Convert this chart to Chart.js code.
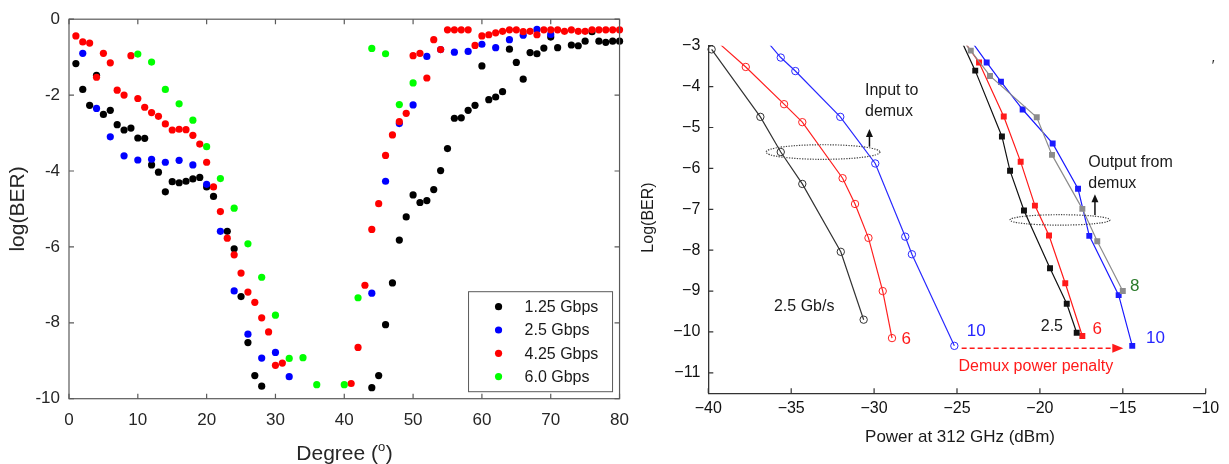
<!DOCTYPE html>
<html>
<head>
<meta charset="utf-8">
<script src="https://cdn.jsdelivr.net/npm/chart.js@4.4.1/dist/chart.umd.min.js"></script>
<style>
  html, body { margin: 0; padding: 0; background: #fff; }
  #wrap { position: relative; width: 1229px; height: 464px; overflow: hidden; }
  #leftChart { position: absolute; left: 0; top: 0; }
  #rightChart { position: absolute; left: 640px; top: 0; }
</style>
</head>
<body>
<div id="wrap">
  <canvas id="leftChart" width="640" height="464"></canvas>
  <canvas id="rightChart" width="589" height="464"></canvas>
</div>
<script>
// ---- left panel: log(BER) against rotation angle ----
const degTicks = [0, 10, 20, 30, 40, 50, 60, 70, 80];
const berTicksLeft = [-10, -8, -6, -4, -2, 0];
const rateLabels = ['1.25 Gbps', '2.5 Gbps', '4.25 Gbps', '6.0 Gbps'];

const deg125 = [1, 2, 3, 4, 5, 6, 7, 8, 9, 10, 11, 12, 13, 14, 15, 16, 17, 18, 19, 20, 21,
  23, 24, 25, 26, 27, 28, 44, 45, 46, 47, 48, 49, 50, 51, 52, 53, 54, 55, 56, 57, 58, 59,
  60, 61, 62, 63, 64, 65, 66, 67, 68, 69, 70, 71, 73, 74, 75, 76, 77, 78, 79, 80];
const ber125 = [-1.17, -1.85, -2.27, -1.48, -2.51, -2.40, -2.78, -2.92, -2.87, -3.13, -3.14,
  -3.84, -4.03, -4.55, -4.28, -4.31, -4.27, -4.21, -4.17, -4.42, -4.67,
  -5.59, -6.05, -7.31, -8.52, -9.39, -9.67, -9.71, -9.39, -8.05, -6.95, -5.82, -5.21, -4.63,
  -4.83, -4.78, -4.49, -3.99, -3.41, -2.61, -2.60, -2.40, -2.27,
  -1.23, -2.12, -2.05, -1.91, -0.79, -1.14, -1.58, -0.88, -0.91, -0.76, -0.47, -0.75,
  -0.68, -0.70, -0.58, -0.33, -0.58, -0.61, -0.58, -0.58];

const deg25 = [2, 4, 6, 8, 10, 12, 14, 16, 18, 20, 22, 24, 26, 28, 30, 32,
  44, 46, 48, 50, 52, 54, 56, 58, 60, 62, 64, 66, 68, 70];
const ber25 = [-0.90, -2.35, -3.10, -3.60, -3.71, -3.69, -3.77, -3.72, -3.84, -4.35, -5.59,
  -7.16, -8.30, -8.93, -8.78, -9.42,
  -7.22, -4.27, -2.75, -2.26, -0.98, -0.80, -0.87, -0.85, -0.66, -0.75, -0.54, -0.42, -0.27, -0.40];

const deg425 = [1, 2, 3, 4, 5, 6, 7, 8, 9, 10, 11, 12, 13, 14, 15, 16, 17, 18, 19, 20,
  21, 22, 23, 24, 25, 26, 27, 28, 29, 30, 31,
  41, 42, 43, 44, 45, 46, 47, 48, 49, 50, 51, 52, 53, 54, 55, 56, 57, 58, 59, 60,
  61, 62, 63, 64, 65, 66, 67, 68, 69, 70, 71, 72, 73, 74, 75, 76, 77, 78, 79, 80];
const ber425 = [-0.44, -0.60, -0.63, -1.53, -0.90, -1.15, -1.87, -2.00, -0.96, -2.09,
  -2.32, -2.46, -2.56, -2.76, -2.92, -2.90, -2.91, -3.06, -3.29, -3.77,
  -4.42, -5.07, -5.77, -6.21, -6.69, -7.19, -7.46, -7.87, -8.24, -9.12, -9.06,
  -9.60, -8.65, -7.01, -5.54, -4.86, -3.59, -3.05, -2.70, -2.48, -0.96,
  -0.90, -1.55, -0.54, -0.80, -0.28, -0.28, -0.28, -0.28, -0.69, -0.44,
  -0.41, -0.36, -0.32, -0.28, -0.28, -0.33, -0.32, -0.41, -0.28, -0.28,
  -0.28, -0.32, -0.28, -0.32, -0.32, -0.28, -0.28, -0.28, -0.28, -0.28];

const deg60 = [10, 12, 14, 16, 18, 20, 22, 24, 26, 28, 30, 32, 34, 36, 40, 42, 44, 46, 48, 50];
const ber60 = [-0.92, -1.13, -1.85, -2.23, -2.66, -3.36, -4.20, -4.98, -5.92, -6.80,
  -7.80, -8.94, -8.92, -9.63, -9.63, -7.34, -0.77, -0.91, -2.25, -1.68];

// ---- right panel: log(BER) against received power ----
const powerTicks = [-40, -35, -30, -25, -20, -15, -10];
const berTicksRight = [-11, -10, -9, -8, -7, -6, -5, -4, -3];

// input to demux (open circles); a first value above -3 is only where the trace enters the frame
const inPow25 = [-39.8, -36.86, -35.63, -34.33, -32.01, -30.63];
const inBer25 = [-3.09, -4.74, -5.60, -6.38, -8.04, -9.70];
const inPow6 = [-39.25, -37.74, -35.43, -34.33, -31.9, -31.15, -30.34, -29.48, -28.92];
const inBer6 = [-2.98, -3.52, -4.43, -4.87, -6.24, -6.87, -7.70, -9.00, -10.15];
const inPow10 = [-36.28, -35.63, -34.75, -32.04, -29.93, -28.12, -27.72, -25.16];
const inBer10 = [-2.98, -3.29, -3.62, -4.74, -5.88, -7.67, -8.10, -10.34];

// output from demux (filled squares)
const outPow25 = [-24.62, -23.9, -22.29, -21.8, -20.96, -19.39, -18.38, -17.78];
const outBer25 = [-2.98, -3.61, -5.22, -6.06, -7.03, -8.44, -9.31, -10.02];
const outPow6 = [-24.42, -23.67, -22.18, -21.16, -20.3, -19.45, -18.47, -17.44];
const outBer6 = [-2.98, -3.41, -4.73, -5.84, -6.91, -7.64, -8.81, -10.1];
const outPow8 = [-24.45, -24.17, -23.01, -20.19, -19.27, -17.44, -16.54, -15.0];
const outBer8 = [-2.98, -3.12, -3.74, -4.75, -5.67, -6.99, -7.78, -9.0];
const outPow10 = [-23.97, -23.21, -22.35, -21.04, -19.23, -17.7, -17.02, -15.25, -14.43];
const outBer10 = [-2.98, -3.41, -3.88, -4.56, -5.39, -6.5, -7.65, -9.1, -10.34];

const FONT = '"Liberation Sans", Arial, Helvetica, sans-serif';

function toXY(xs, ys) {
  return xs.map((x, i) => ({ x: x, y: ys[i] }));
}

function fixedTicks(values) {
  return function (scale) {
    scale.ticks = values.map(v => ({ value: v }));
  };
}

function minusSign(v) {
  return String(v).replace('-', '\u2212');
}

// ---------- left chart ----------
const leftColors = ['#000000', '#0000ff', '#ff0000', '#00ff00'];

function dotSet(i, xs, ys) {
  return {
    label: rateLabels[i],
    data: toXY(xs, ys),
    showLine: false,
    pointRadius: 3.6,
    pointHoverRadius: 3.6,
    pointBorderWidth: 0,
    pointBackgroundColor: leftColors[i],
    backgroundColor: leftColors[i],
    borderColor: leftColors[i],
    clip: false,
    order: 3 - i
  };
}

const leftFrame = {
  id: 'leftFrame',
  afterDraw(chart) {
    const ctx = chart.ctx;
    const ca = chart.chartArea;
    const xs = chart.scales.x, ys = chart.scales.y;
    ctx.save();
    ctx.strokeStyle = '#5a5a5a';
    ctx.lineWidth = 1.2;
    ctx.strokeRect(ca.left, ca.top, ca.right - ca.left, ca.bottom - ca.top);

    // ticks point inward on all four sides
    ctx.beginPath();
    degTicks.forEach(v => {
      const px = xs.getPixelForValue(v);
      ctx.moveTo(px, ca.bottom); ctx.lineTo(px, ca.bottom - 5);
      ctx.moveTo(px, ca.top); ctx.lineTo(px, ca.top + 5);
    });
    berTicksLeft.forEach(v => {
      const py = ys.getPixelForValue(v);
      ctx.moveTo(ca.left, py); ctx.lineTo(ca.left + 5, py);
      ctx.moveTo(ca.right, py); ctx.lineTo(ca.right - 5, py);
    });
    ctx.stroke();

    // axis titles
    ctx.fillStyle = '#262626';
    ctx.font = '21px ' + FONT;
    ctx.textBaseline = 'middle';
    ctx.textAlign = 'center';
    ctx.save();
    ctx.translate(18, (ca.top + ca.bottom) / 2);
    ctx.rotate(-Math.PI / 2);
    ctx.fillText('log(BER)', 0, 0);
    ctx.restore();

    ctx.textBaseline = 'alphabetic';
    ctx.textAlign = 'left';
    const part1 = 'Degree (';
    const w1 = ctx.measureText(part1).width;
    ctx.font = '13px ' + FONT;
    const w2 = ctx.measureText('o').width;
    ctx.font = '21px ' + FONT;
    const w3 = ctx.measureText(')').width;
    let tx = (ca.left + ca.right) / 2 - (w1 + w2 + w3) / 2;
    const base = 460;
    ctx.fillText(part1, tx, base);
    ctx.font = '13px ' + FONT;
    ctx.fillText('o', tx + w1, base - 9);
    ctx.font = '21px ' + FONT;
    ctx.fillText(')', tx + w1 + w2 + 0.5, base);

    // legend box, bottom right inside the axes
    const bx = ca.right - 151, by = ca.bottom - 107, bw = 144, bh = 100;
    ctx.fillStyle = '#ffffff';
    ctx.fillRect(bx, by, bw, bh);
    ctx.strokeStyle = '#5a5a5a';
    ctx.lineWidth = 1;
    ctx.strokeRect(bx, by, bw, bh);
    ctx.font = '16px ' + FONT;
    ctx.textBaseline = 'middle';
    chart.data.datasets.forEach((ds, i) => {
      const ry = by + 15 + i * 23.3;
      ctx.fillStyle = ds.pointBackgroundColor;
      ctx.beginPath();
      ctx.arc(bx + 30, ry, 3.6, 0, Math.PI * 2);
      ctx.fill();
      ctx.fillStyle = '#1a1a1a';
      ctx.fillText(ds.label, bx + 56, ry + 1);
    });
    ctx.restore();
  }
};

new Chart(document.getElementById('leftChart'), {
  type: 'scatter',
  data: {
    datasets: [
      dotSet(0, deg125, ber125),
      dotSet(1, deg25, ber25),
      dotSet(2, deg425, ber425),
      dotSet(3, deg60, ber60)
    ]
  },
  options: {
    responsive: false,
    animation: false,
    events: [],
    layout: { padding: { top: 19, right: 17, left: 0, bottom: 0 } },
    plugins: { legend: { display: false }, tooltip: { enabled: false } },
    scales: {
      x: {
        type: 'linear', min: 0, max: 80,
        afterBuildTicks: fixedTicks(degTicks),
        afterFit: s => { s.height = 65.3; },
        grid: { display: false, drawTicks: false },
        border: { display: false },
        ticks: { color: '#262626', padding: 11, autoSkip: false, maxRotation: 0,
          font: { size: 17, family: FONT } }
      },
      y: {
        type: 'linear', min: -10, max: 0,
        afterBuildTicks: fixedTicks(berTicksLeft),
        afterFit: s => { s.width = 69; },
        grid: { display: false, drawTicks: false },
        border: { display: false },
        ticks: { color: '#262626', padding: 9, autoSkip: false,
          font: { size: 17, family: FONT } }
      }
    }
  },
  plugins: [leftFrame]
});

// ---------- right chart ----------
function traceSet(label, xs, ys, color, marker) {
  const open = marker === 'circle';
  return {
    label: label,
    data: toXY(xs, ys),
    showLine: true,
    borderColor: color,
    borderWidth: 1.2,
    backgroundColor: color,
    pointStyle: marker,
    pointRadius: c => (c.raw && c.raw.y > -3 ? 0 : (open ? 3.7 : 4.2)),
    pointHoverRadius: 0,
    pointBorderWidth: open ? 1 : 0,
    pointBorderColor: color,
    pointBackgroundColor: open ? 'rgba(0,0,0,0)' : color,
    clip: { left: 10, top: 0, right: 10, bottom: 10 }
  };
}

const rightFrame = {
  id: 'rightFrame',
  afterDraw(chart) {
    const ctx = chart.ctx;
    const ca = chart.chartArea;
    const xs = chart.scales.x, ys = chart.scales.y;
    const X = v => xs.getPixelForValue(v);
    const Y = v => ys.getPixelForValue(v);
    ctx.save();

    // inward ticks on the two drawn axes
    ctx.strokeStyle = '#333';
    ctx.lineWidth = 1.2;
    ctx.beginPath();
    powerTicks.forEach(v => { ctx.moveTo(X(v), ca.bottom); ctx.lineTo(X(v), ca.bottom - 5); });
    berTicksRight.forEach(v => { ctx.moveTo(ca.left, Y(v)); ctx.lineTo(ca.left + 5, Y(v)); });
    ctx.stroke();

    // axis titles
    ctx.fillStyle = '#1a1a1a';
    ctx.font = '17px ' + FONT;
    ctx.textAlign = 'center';
    ctx.textBaseline = 'middle';
    ctx.fillText('Power at 312 GHz (dBm)', (ca.left + ca.right) / 2 + 3, 437);
    ctx.save();
    ctx.translate(9, (ca.top + ca.bottom) / 2 - 2);
    ctx.rotate(-Math.PI / 2);
    ctx.font = '16px ' + FONT;
    ctx.fillText('Log(BER)', 0, 0);
    ctx.restore();

    // dotted ellipses grouping the two families
    ctx.strokeStyle = '#444';
    ctx.lineWidth = 1.2;
    ctx.setLineDash([1.3, 1.3]);
    ctx.beginPath();
    ctx.ellipse(X(-33.08), Y(-5.60), 57, 7.3, 0, 0, Math.PI * 2);
    ctx.stroke();
    ctx.beginPath();
    ctx.ellipse(X(-18.79), Y(-7.26), 50, 5.2, 0, 0, Math.PI * 2);
    ctx.stroke();
    ctx.setLineDash([]);

    // small up arrows
    function upArrow(x, y0, y1, color) {
      ctx.strokeStyle = color; ctx.fillStyle = color; ctx.lineWidth = 1.5;
      ctx.beginPath(); ctx.moveTo(x, y0); ctx.lineTo(x, y1 + 5); ctx.stroke();
      ctx.beginPath(); ctx.moveTo(x, y1); ctx.lineTo(x - 3.5, y1 + 8); ctx.lineTo(x + 3.5, y1 + 8);
      ctx.closePath(); ctx.fill();
    }
    upArrow(X(-30.28), Y(-5.47), Y(-5.04), '#111');
    upArrow(X(-16.68), Y(-7.14), Y(-6.63), '#111');

    // labels
    ctx.textAlign = 'left';
    ctx.textBaseline = 'middle';
    function label(txt, x, y, color) {
      ctx.fillStyle = color;
      ctx.fillText(txt, X(x), Y(y));
    }
    ctx.font = '16px ' + FONT;
    label('Input to', -30.55, -4.10, '#1a1a1a');
    label('demux', -30.55, -4.61, '#1a1a1a');
    label('Output from', -17.08, -5.85, '#1a1a1a');
    label('demux', -17.08, -6.36, '#1a1a1a');
    label('2.5 Gb/s', -36.04, -9.39, '#1a1a1a');
    label('2.5', -19.95, -9.88, '#1a1a1a');
    ctx.font = '17px ' + FONT;
    label('6', -28.34, -10.17, '#ff1a1a');
    label('10', -24.41, -9.99, '#2626ff');
    label('6', -16.82, -9.93, '#ff1a1a');
    label('8', -14.57, -8.88, '#2a7a2a');
    label('10', -13.6, -10.15, '#2626ff');
    ctx.font = '16px ' + FONT;
    label('Demux power penalty', -24.91, -10.85, '#ff1a1a');

    // dashed red arrow for the power penalty
    const ay = Y(-10.40), ax0 = X(-24.72), ax1 = X(-14.97);
    ctx.strokeStyle = '#ff1a1a'; ctx.fillStyle = '#ff1a1a'; ctx.lineWidth = 1.5;
    ctx.setLineDash([5, 3]);
    ctx.beginPath(); ctx.moveTo(ax0, ay); ctx.lineTo(ax1 - 8, ay); ctx.stroke();
    ctx.setLineDash([]);
    ctx.beginPath(); ctx.moveTo(ax1, ay); ctx.lineTo(ax1 - 11, ay - 4.5); ctx.lineTo(ax1 - 11, ay + 4.5);
    ctx.closePath(); ctx.fill();

    // stray mark in the top right corner of the figure
    ctx.fillStyle = '#222';
    ctx.font = 'italic 15px ' + FONT;
    ctx.fillText('\u2032', 571, 66);
    ctx.restore();
  }
};

new Chart(document.getElementById('rightChart'), {
  type: 'scatter',
  data: {
    datasets: [
      traceSet('2.5 Gb/s in', inPow25, inBer25, '#333333', 'circle'),
      traceSet('6 Gb/s in', inPow6, inBer6, '#ff2020', 'circle'),
      traceSet('10 Gb/s in', inPow10, inBer10, '#2a2aff', 'circle'),
      traceSet('8 Gb/s out', outPow8, outBer8, '#8c8c8c', 'rect'),
      traceSet('2.5 Gb/s out', outPow25, outBer25, '#111111', 'rect'),
      traceSet('6 Gb/s out', outPow6, outBer6, '#ff1a1a', 'rect'),
      traceSet('10 Gb/s out', outPow10, outBer10, '#1a1aff', 'rect')
    ]
  },
  options: {
    responsive: false,
    animation: false,
    events: [],
    layout: { padding: { top: 45.7, right: 23.3, left: 0, bottom: 0 } },
    plugins: { legend: { display: false }, tooltip: { enabled: false } },
    scales: {
      x: {
        type: 'linear', min: -40, max: -10,
        afterBuildTicks: fixedTicks(powerTicks),
        afterFit: s => { s.height = 70.7; },
        grid: { display: false, drawTicks: false },
        border: { display: true, color: '#333', width: 1.3 },
        ticks: { color: '#111', padding: 6, autoSkip: false, maxRotation: 0,
          font: { size: 16, family: FONT }, callback: v => minusSign(v) }
      },
      y: {
        type: 'linear', min: -11.5, max: -3,
        afterBuildTicks: fixedTicks(berTicksRight),
        afterFit: s => { s.width = 68.3; },
        grid: { display: false, drawTicks: false },
        border: { display: true, color: '#333', width: 1.3 },
        ticks: { color: '#111', padding: 8, autoSkip: false,
          font: { size: 16, family: FONT }, callback: v => minusSign(v) }
      }
    }
  },
  plugins: [rightFrame]
});
</script>
</body>
</html>
